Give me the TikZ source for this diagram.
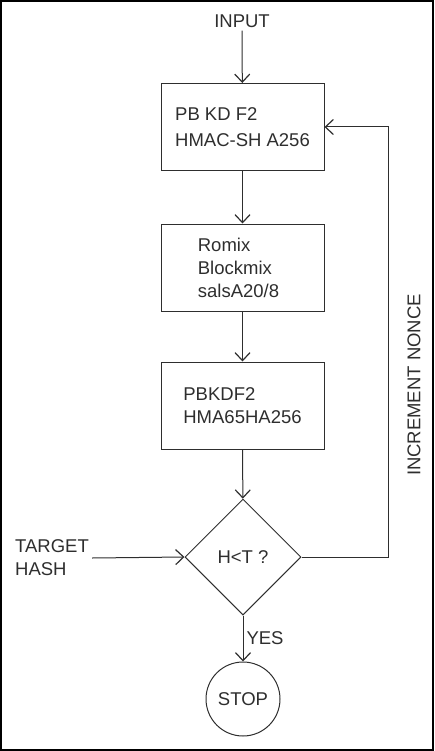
\documentclass[tikz,border=0pt]{standalone}
\usepackage{fontspec}
\setmainfont{Liberation Sans}
\usetikzlibrary{arrows.meta,shapes.geometric}
\definecolor{ink}{HTML}{2E2E2E}
\tikzset{
  every node/.style={text=ink, font=\fontsize{18.5}{23}\selectfont},
  procbox/.style={draw=ink, line width=1pt, minimum width=163pt, minimum height=87pt, align=left, inner sep=0pt},
  decision/.style={draw=ink, line width=1pt, diamond, minimum width=116pt, minimum height=116pt, inner sep=0pt, aspect=1},
  endstate/.style={draw=ink, line width=1pt, circle, minimum size=74pt, inner sep=0pt},
  plain/.style={align=left, inner sep=3pt},
  arr/.style={draw=ink, line width=1pt, -{Straight Barb[length=8pt,width=15pt,line width=1.2pt]}},
}
\begin{document}
\begin{tikzpicture}[x=1pt,y=-1pt]
\useasboundingbox (0,0) rectangle (434,751);
\draw[black, line width=2pt] (1,1) rectangle (433,750);

\node[plain] (input) at (242,21) {INPUT};
\node[procbox] (b1) at (242.5,127) {PB KD F2\\[3pt]HMAC-SH A256};
\node[procbox] (b2) at (242.5,267.5) {\hspace*{-8pt}Romix\\\hspace*{-8pt}Blockmix\\\hspace*{-8pt}salsA20/8};
\node[procbox] (b3) at (242.5,405.5) {PBKDF2\\HMA65HA256};
\node[decision] (dec) at (243,557) {H<T ?};
\node[endstate] (stop) at (243,699) {STOP};
\node[plain, anchor=west] (target) at (12,558) {TARGET\\HASH};
\node[plain, rotate=90] (nonce) at (414,385) {INCREMENT NONCE};
\coordinate (lc) at (388,127);

\draw[arr] (input) -- (b1);
\draw[arr] (b1) -- (b2);
\draw[arr] (b2) -- (b3);
\draw[arr] (b3) -- (dec);
\draw[arr] (target.east) -- (dec.west);
\draw[arr] (dec) -- node[right, plain, pos=0.5] {YES} (stop);
\draw[arr] (dec.east) -| (lc) -- (b1.east);
\end{tikzpicture}
\end{document}
